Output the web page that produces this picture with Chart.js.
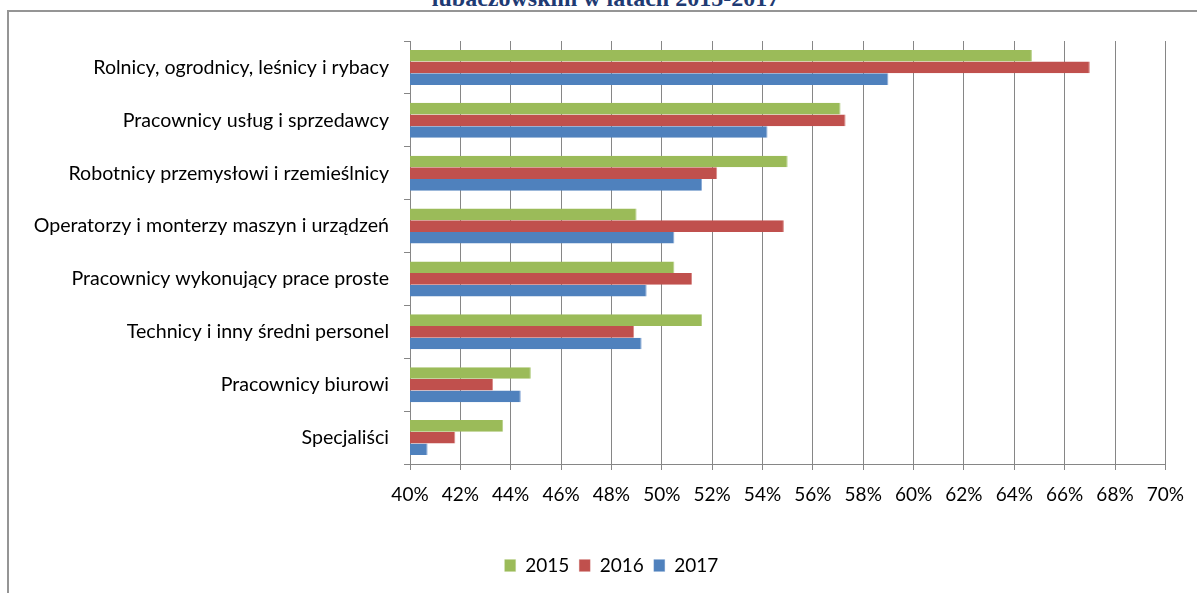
<!DOCTYPE html>
<html>
<head>
<meta charset="utf-8">
<script src="https://cdn.jsdelivr.net/npm/chart.js@4.4.0/dist/chart.umd.min.js"></script>
<style>
  body { margin: 0; background: #fff; }
  #wrap { position: relative; width: 1197px; height: 593px; overflow: hidden; }
  #frame { position: absolute; left: 7px; top: 10px; width: 1300px; height: 700px;
           border-left: 2px solid #959595; border-top: 2px solid #959595; }
  #title { position: absolute; left: 0; width: 1211px; top: -15px; text-align: center; line-height: 24px;
           font: bold 24px "Liberation Serif"; color: #1f3b73; white-space: nowrap; }
  #chart { position: absolute; left: 0; top: 0; }
</style>
</head>
<body>
<div id="wrap">
  <div id="frame"></div>
  <div id="title">lubaczowskim w latach 2015-2017</div>
  <canvas id="chart" width="1197" height="593"></canvas>
</div>
<script>
var categories = [
    "Rolnicy, ogrodnicy, leśnicy i rybacy",
    "Pracownicy usług i sprzedawcy",
    "Robotnicy przemysłowi i rzemieślnicy",
    "Operatorzy i monterzy maszyn i urządzeń",
    "Pracownicy wykonujący prace proste",
    "Technicy i inny średni personel",
    "Pracownicy biurowi",
    "Specjaliści"
];
var years = ["2015", "2016", "2017"];
var values2015 = [64.7, 57.1, 55.0, 49.0, 50.5, 51.6, 44.8, 43.7];
var values2016 = [67.0, 57.3, 52.2, 54.85, 51.2, 48.9, 43.3, 41.8];
var values2017 = [59.0, 54.2, 51.6, 50.5, 49.4, 49.2, 44.4, 40.7];
var xTicks = [40, 42, 44, 46, 48, 50, 52, 54, 56, 58, 60, 62, 64, 66, 68, 70];

var FONT = "Lato";
var axisColor = "#868686";

// legend sits a bit right of the canvas centre in the original
var shiftLegend = {
    id: "shiftLegend",
    afterLayout: function (chart) {
        chart.legend.left += 25;
        chart.legend.right += 25;
    }
};

var ctx = document.getElementById("chart");
var myChart = new Chart(ctx, {
    type: "bar",
    data: {
        labels: categories,
        datasets: [
            { label: years[0], data: values2015, backgroundColor: "#9bbb59", borderColor: "#b5cf86", borderWidth: { right: 1 } },
            { label: years[1], data: values2016, backgroundColor: "#c0504d", borderColor: "#d88a88", borderWidth: { right: 1 } },
            { label: years[2], data: values2017, backgroundColor: "#4f81bd", borderColor: "#8aaad6", borderWidth: { right: 1 } }
        ]
    },
    plugins: [shiftLegend],
    options: {
        indexAxis: "y",
        responsive: false,
        animation: false,
        categoryPercentage: 0.66,
        barPercentage: 1.0,
        layout: { padding: { left: 0, right: 24, top: 41, bottom: 8 } },
        plugins: {
            tooltip: { enabled: false },
            legend: {
                position: "bottom",
                labels: {
                    boxWidth: 11, boxHeight: 12, padding: 10,
                    color: "#000", font: { family: FONT, size: 19 }
                }
            }
        },
        scales: {
            x: {
                min: 40, max: 70,
                afterBuildTicks: function (scale) {
                    scale.ticks = xTicks.map(function (v) { return { value: v }; });
                },
                afterFit: function (scale) { scale.height = 82; },
                grid: { color: axisColor, lineWidth: 1, tickLength: 6, drawTicks: true },
                border: { color: axisColor, width: 1 },
                ticks: {
                    color: "#000", padding: 13, maxRotation: 0, autoSkip: false,
                    font: { family: FONT, size: 19 },
                    callback: function (v) { return v + "%"; }
                }
            },
            y: {
                afterFit: function (scale) { scale.width = 410; },
                grid: { drawOnChartArea: false, drawTicks: true, tickLength: 6, offset: true, color: axisColor },
                border: { color: axisColor, width: 1 },
                ticks: { color: "#000", padding: 15, font: { family: FONT, size: 19.6 } }
            }
        }
    }
});
</script>
</body>
</html>
